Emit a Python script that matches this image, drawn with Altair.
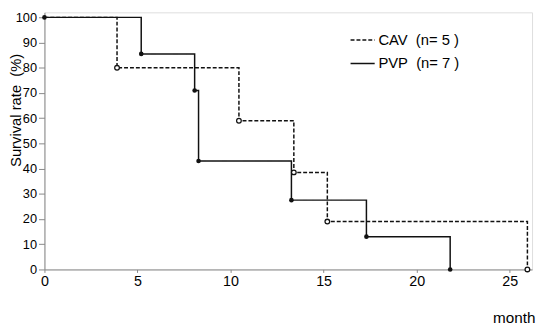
import altair as alt
import pandas as pd

# Kaplan-Meier style survival data
cav_months = [0, 3.9, 10.45, 13.4, 15.2, 25.95]
cav_survival = [100, 80, 59, 38.5, 19, 0]
pvp_months = [0, 5.2, 8.07, 8.28, 13.27, 17.3, 21.8]
pvp_survival = [100, 85.5, 71, 43, 27.5, 13, 0]

series_labels = ["CAV\u00a0 (n=\u00a05\u00a0)", "PVP\u00a0 (n=\u00a07\u00a0)"]
y_ticks = [0, 10, 20, 30, 40, 50, 60, 70, 80, 90, 100]
x_ticks = [0, 5, 10, 15, 20, 25]

rows = []
for m, s in zip(cav_months, cav_survival):
    rows.append({"month": m, "surv": s, "group": series_labels[0]})
for m, s in zip(pvp_months, pvp_survival):
    rows.append({"month": m, "surv": s, "group": series_labels[1]})
df = pd.DataFrame(rows)

cav_pts = df[(df["group"] == series_labels[0]) & (df["month"] > 0)]
pvp_pts = df[df["group"] == series_labels[1]]

FONT = "Liberation Sans"

xs = alt.Scale(domain=[0, 26.2], nice=False, zero=False)
ys = alt.Scale(domain=[0, 102], nice=False)

x_axis = alt.Axis(values=x_ticks, title="month", titleAnchor="end",
                  titleAlign="right", titleX=498, titleY=49,
                  titleBaseline="middle", titleFontWeight="normal",
                  titleFontSize=15.5, labelFontSize=14.5, tickSize=3,
                  labelPadding=2, grid=False, labelFlush=False,
                  labelOverlap=False)
y_axis = alt.Axis(values=y_ticks, title="Survival\u00a0rate\u00a0\u00a0(%)",
                  titleX=-29, titleY=99, titleAngle=270,
                  titleAlign="center", titleBaseline="middle",
                  titleFontWeight="normal", titleFontSize=15,
                  labelFontSize=13, tickSize=6,
                  labelPadding=2, grid=False, labelOverlap=False)

x_enc = alt.X("month:Q", scale=xs, axis=x_axis)
y_enc = alt.Y("surv:Q", scale=ys, axis=y_axis)

lines = alt.Chart(df).mark_line(interpolate="step-after", strokeWidth=1.5,
                                color="#111111").encode(
    x=x_enc, y=y_enc,
    strokeDash=alt.StrokeDash("group:N",
        scale=alt.Scale(domain=series_labels, range=[[4, 2], [1, 0]]),
        legend=alt.Legend(title=None, orient="none", legendX=310, legendY=15,
                          symbolType="stroke", symbolSize=600,
                          symbolStrokeWidth=1.5, symbolStrokeColor="#111111",
                          labelFontSize=15, labelFont=FONT, rowPadding=3,
                          labelOffset=3)),
)

cav_marks = alt.Chart(cav_pts).mark_point(shape="circle", size=22, filled=True,
                                          fill="white", stroke="#111111",
                                          strokeWidth=1.3, opacity=1).encode(
    x=x_enc, y=y_enc)

pvp_marks = alt.Chart(pvp_pts).mark_point(shape="circle", size=22, filled=True,
                                          color="#111111", opacity=1).encode(
    x=x_enc, y=y_enc)

chart = alt.layer(lines, cav_marks, pvp_marks).properties(
    width=495, height=261,
    autosize=alt.AutoSizeParams(type="none"),
    padding={"left": 37, "top": 2, "right": 4, "bottom": 55},
).configure_view(stroke=None).configure_axis(
    domainColor="#111111", domainWidth=1.6, tickColor="#111111",
    labelColor="#111111", titleColor="#111111", labelFont=FONT, titleFont=FONT,
).configure(background="white")

chart.save("out.html", embed_options={"renderer": "svg", "actions": False})
